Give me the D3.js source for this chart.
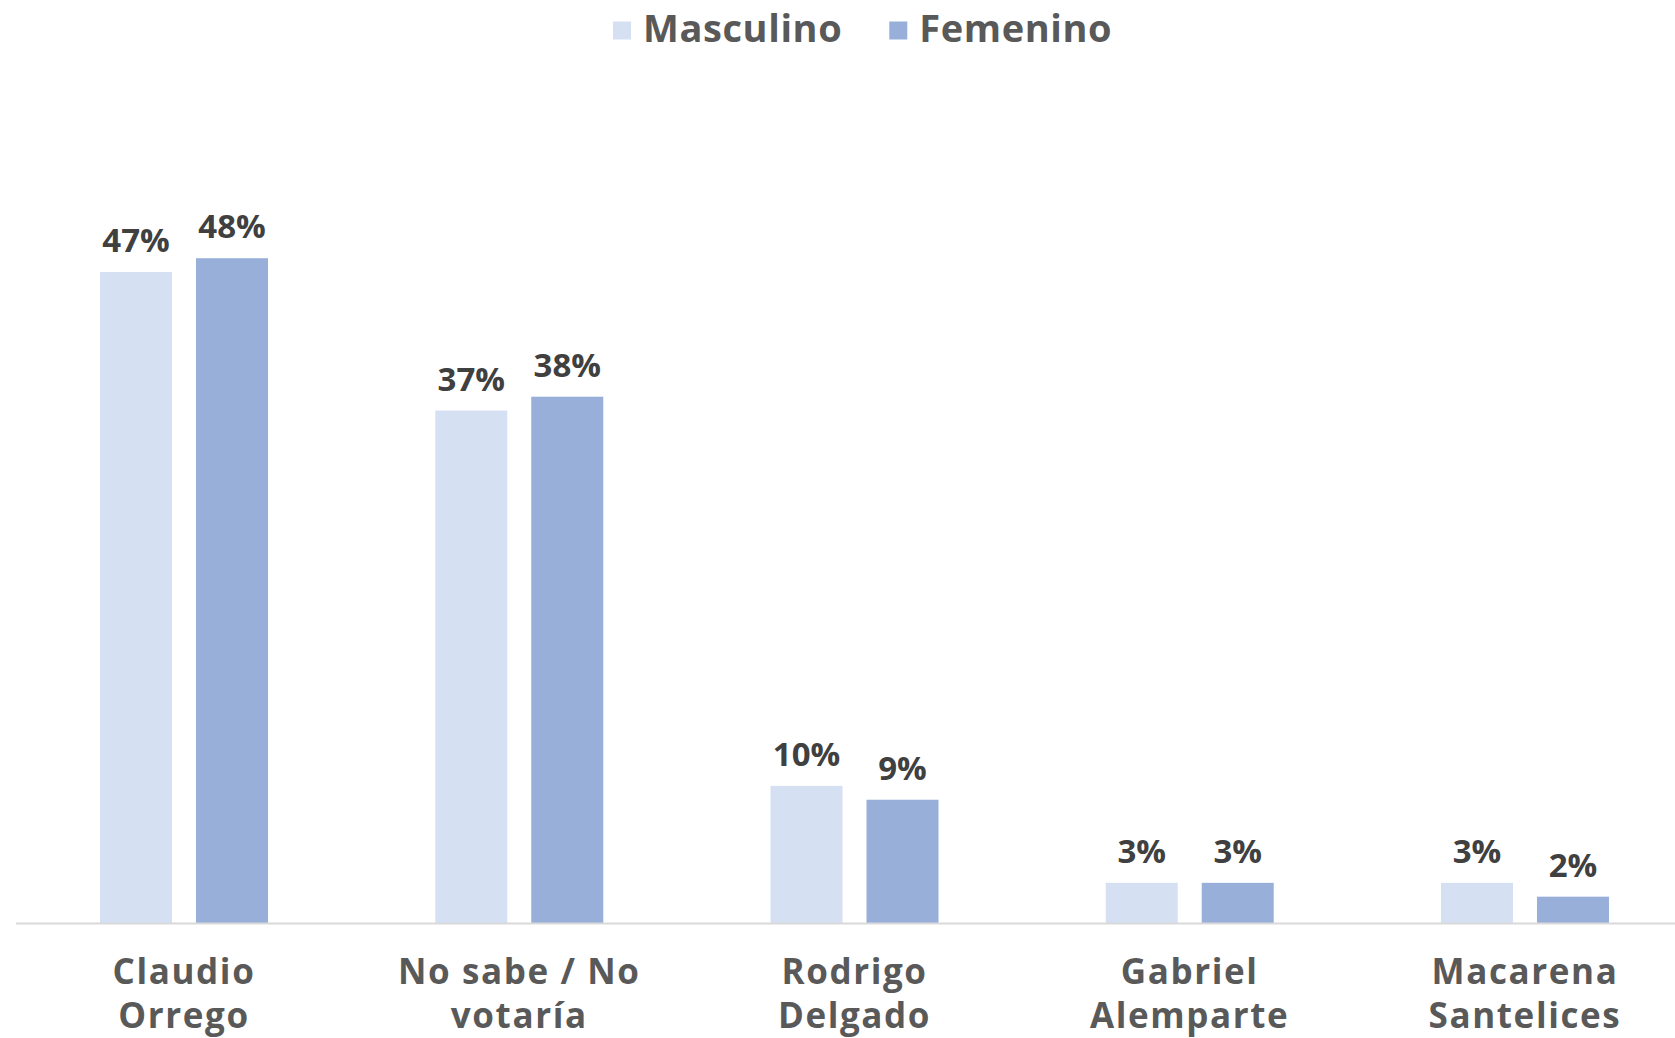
<html>
<head>
  <meta charset="utf-8" />
  <script src="https://cdnjs.cloudflare.com/ajax/libs/d3/7.8.5/d3.min.js"></script>
  <style>
    body { margin: 0; background: #fff; }
    text { font-family: "Open Sans", "Liberation Sans", sans-serif; font-weight: 700; }
  </style>
</head>
<body>
  <svg></svg>
  <script>
    // values (labels show the rounded %)
    var categories = [["Claudio", "Orrego"], ["No sabe / No", "votaría"], ["Rodrigo", "Delgado"],
                      ["Gabriel", "Alemparte"], ["Macarena", "Santelices"]]
    var series = ["Masculino", "Femenino"]
    var masculino = [47, 37, 9.9, 2.9, 2.9]
    var femenino = [48, 38, 8.9, 2.9, 1.9]
    var colors = ["#D5E0F3", "#98AFDA"]

    var width = 1675, height = 1038
    var svg = d3.select("svg").attr("width", width).attr("height", height)

    var rows = categories.map((c, i) => ({ cat: c, vals: [masculino[i], femenino[i]] }))

    var x0 = d3.scaleBand()
      .domain(d3.range(categories.length))
      .range([16.4, 1692.6])

    var x1 = d3.scaleBand()
      .domain(series)
      .range([0, 168])
      .paddingInner(0.25)

    var y = d3.scaleLinear()
      .domain([0, 50])
      .range([923, 923 - 50 * 13.85])

    var groups = svg.selectAll(".grp")
      .data(rows)
      .enter()
      .append("g")
        .attr("class", "grp")
        .attr("transform", (d, i) => `translate(${x0(i) + x0.bandwidth() / 2 - 84},0)`)

    groups.selectAll("rect")
      .data(d => d.vals.map((v, j) => ({ s: series[j], v: v, j: j })))
      .enter()
      .append("rect")
        .attr("x", d => x1(d.s))
        .attr("y", d => y(d.v))
        .attr("width", x1.bandwidth())
        .attr("height", d => y(0) - y(d.v))
        .style("fill", d => colors[d.j])

    groups.selectAll(".lbl")
      .data(d => d.vals.map((v, j) => ({ s: series[j], v: v })))
      .enter()
      .append("text")
        .attr("class", "lbl")
        .attr("x", d => x1(d.s) + x1.bandwidth() / 2)
        .attr("y", d => y(d.v) - 20)
        .attr("text-anchor", "middle")
        .style("font-size", "33px")
        .style("fill", "#404040")
        .text(d => Math.round(d.v) + "%")

    // axis line
    svg.append("line")
      .attr("x1", 16).attr("x2", width)
      .attr("y1", y(0) + 0.5).attr("y2", y(0) + 0.5)
      .style("stroke", "#D9D9D9")
      .style("stroke-width", 2)

    // category labels, two lines each
    var cat = svg.selectAll(".cat")
      .data(rows)
      .enter()
      .append("text")
        .attr("class", "cat")
        .attr("text-anchor", "middle")
        .style("font-size", "35px")
        .style("letter-spacing", "1.6px")
        .style("fill", "#595959")
    cat.selectAll("tspan")
      .data((d, i) => d.cat.map(t => ({ t: t, i: i })))
      .enter()
      .append("tspan")
        .attr("x", d => x0(d.i) + x0.bandwidth() / 2)
        .attr("y", (d, k) => 984 + k * 44)
        .text(d => d.t)

    // legend
    var legend = svg.append("g")
    var lx = 613
    series.forEach((s, j) => {
      legend.append("rect")
        .attr("x", lx).attr("y", 21.5)
        .attr("width", 18).attr("height", 18)
        .style("fill", colors[j])
      var t = legend.append("text")
        .attr("x", lx + 30).attr("y", 41.7)
        .style("font-size", "38px")
        .style("letter-spacing", "0.6px")
        .style("fill", "#595959")
        .text(s)
      lx += 30 + t.node().getComputedTextLength() + 47
    })
  </script>
</body>
</html>
